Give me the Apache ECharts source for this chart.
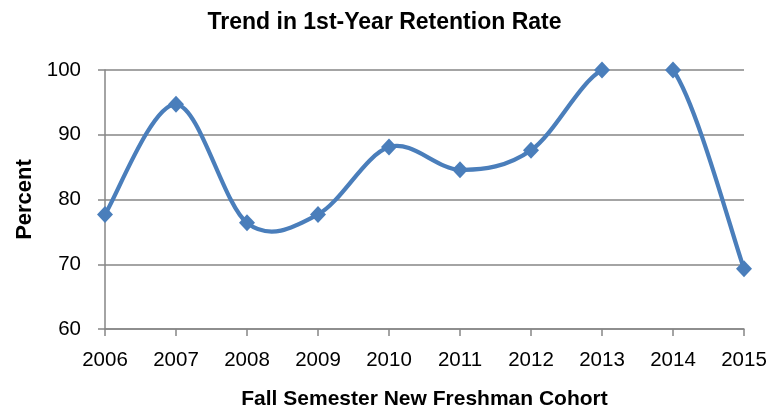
<!DOCTYPE html>
<html>
<head>
<meta charset="utf-8">
<script src="https://cdn.jsdelivr.net/npm/echarts@6/dist/echarts.min.js"></script>
<style>
html,body{margin:0;padding:0;background:#fff;}
#chart{width:769px;height:409px;}
</style>
</head>
<body>
<div id="chart"></div>
<script>
var years = ['2006','2007','2008','2009','2010','2011','2012','2013','2014','2015'];
var retention = [77.7, 94.7, 76.4, 77.7, 88.1, 84.6, 87.6, 100, 100, 69.3];
var yTicks = {min: 60, max: 100, interval: 10};
var titleText = 'Trend in 1st-Year Retention Rate';
var xName = 'Fall Semester New Freshman Cohort';
var yName = 'Percent';

var FONT = '"Liberation Sans", Arial, sans-serif';
var LINE_COLOR = '#4A7EBB';
var AXIS_COLOR = '#868686';

var pairs = retention.map(function (v, i) { return [i, v]; });

// Excel-like smoothed line: cubic Bezier segments (Catmull-Rom style control points)
// computed from the data points after mapping through the chart's own axes.
function renderSmooth(params, api) {
  var i = params.dataIndex;
  var n = retention.length;
  if (i >= n - 1) return null;
  function pt(k) {
    k = Math.max(0, Math.min(n - 1, k));
    return api.coord([k, retention[k]]);
  }
  var p0 = pt(i - 1), p1 = pt(i), p2 = pt(i + 1), p3 = pt(i + 2);
  var cs = params.coordSys;
  return {
    type: 'group',
    clipPath: {type: 'rect', shape: {x: cs.x, y: cs.y, width: cs.width, height: cs.height}},
    children: [{
      type: 'bezierCurve',
      shape: {
        x1: p1[0], y1: p1[1],
        cpx1: p1[0] + (p2[0] - p0[0]) / 6, cpy1: p1[1] + (p2[1] - p0[1]) / 6,
        cpx2: p2[0] - (p3[0] - p1[0]) / 6, cpy2: p2[1] - (p3[1] - p1[1]) / 6,
        x2: p2[0], y2: p2[1]
      },
      style: {stroke: LINE_COLOR, lineWidth: 4.25, fill: null, lineCap: 'round'}
    }]
  };
}

var chart = echarts.init(document.getElementById('chart'), null, {renderer: 'canvas'});
chart.setOption({
  animation: false,
  backgroundColor: '#ffffff',
  title: {
    text: titleText,
    left: 'center',
    top: 6,
    textStyle: {fontFamily: FONT, fontWeight: 'bold', fontSize: 23, color: '#000'}
  },
  grid: {left: 105, right: 25, top: 70, bottom: 80, containLabel: false, outerBoundsMode: 'none'},
  xAxis: {
    type: 'category',
    data: years,
    boundaryGap: false,
    name: xName,
    nameLocation: 'middle',
    nameGap: 60,
    nameTextStyle: {fontFamily: FONT, fontWeight: 'bold', fontSize: 21, color: '#000'},
    axisLine: {lineStyle: {color: AXIS_COLOR, width: 1.5}},
    axisTick: {show: true, length: 7, alignWithLabel: true, lineStyle: {color: AXIS_COLOR, width: 1.5}},
    axisLabel: {fontFamily: FONT, fontSize: 20.5, color: '#000', margin: 21, interval: 0},
    splitLine: {show: false}
  },
  yAxis: {
    type: 'value',
    min: yTicks.min,
    max: yTicks.max,
    interval: yTicks.interval,
    name: yName,
    nameLocation: 'middle',
    nameGap: 69,
    nameRotate: 90,
    nameTextStyle: {fontFamily: FONT, fontWeight: 'bold', fontSize: 22, color: '#000'},
    axisLine: {show: true, lineStyle: {color: AXIS_COLOR, width: 1.5}},
    axisTick: {show: true, length: 7, lineStyle: {color: AXIS_COLOR, width: 1.5}},
    axisLabel: {fontFamily: FONT, fontSize: 20.5, color: '#000', margin: 24},
    splitLine: {show: true, lineStyle: {color: AXIS_COLOR, width: 1.5}}
  },
  series: [{
    type: 'custom',
    renderItem: renderSmooth,
    data: pairs,
    encode: {x: 0, y: 1},
    z: 2
  }, {
    type: 'scatter',
    data: pairs,
    symbol: 'diamond',
    symbolSize: [16, 17],
    itemStyle: {color: LINE_COLOR, opacity: 1},
    z: 3
  }]
});
</script>
</body>
</html>
